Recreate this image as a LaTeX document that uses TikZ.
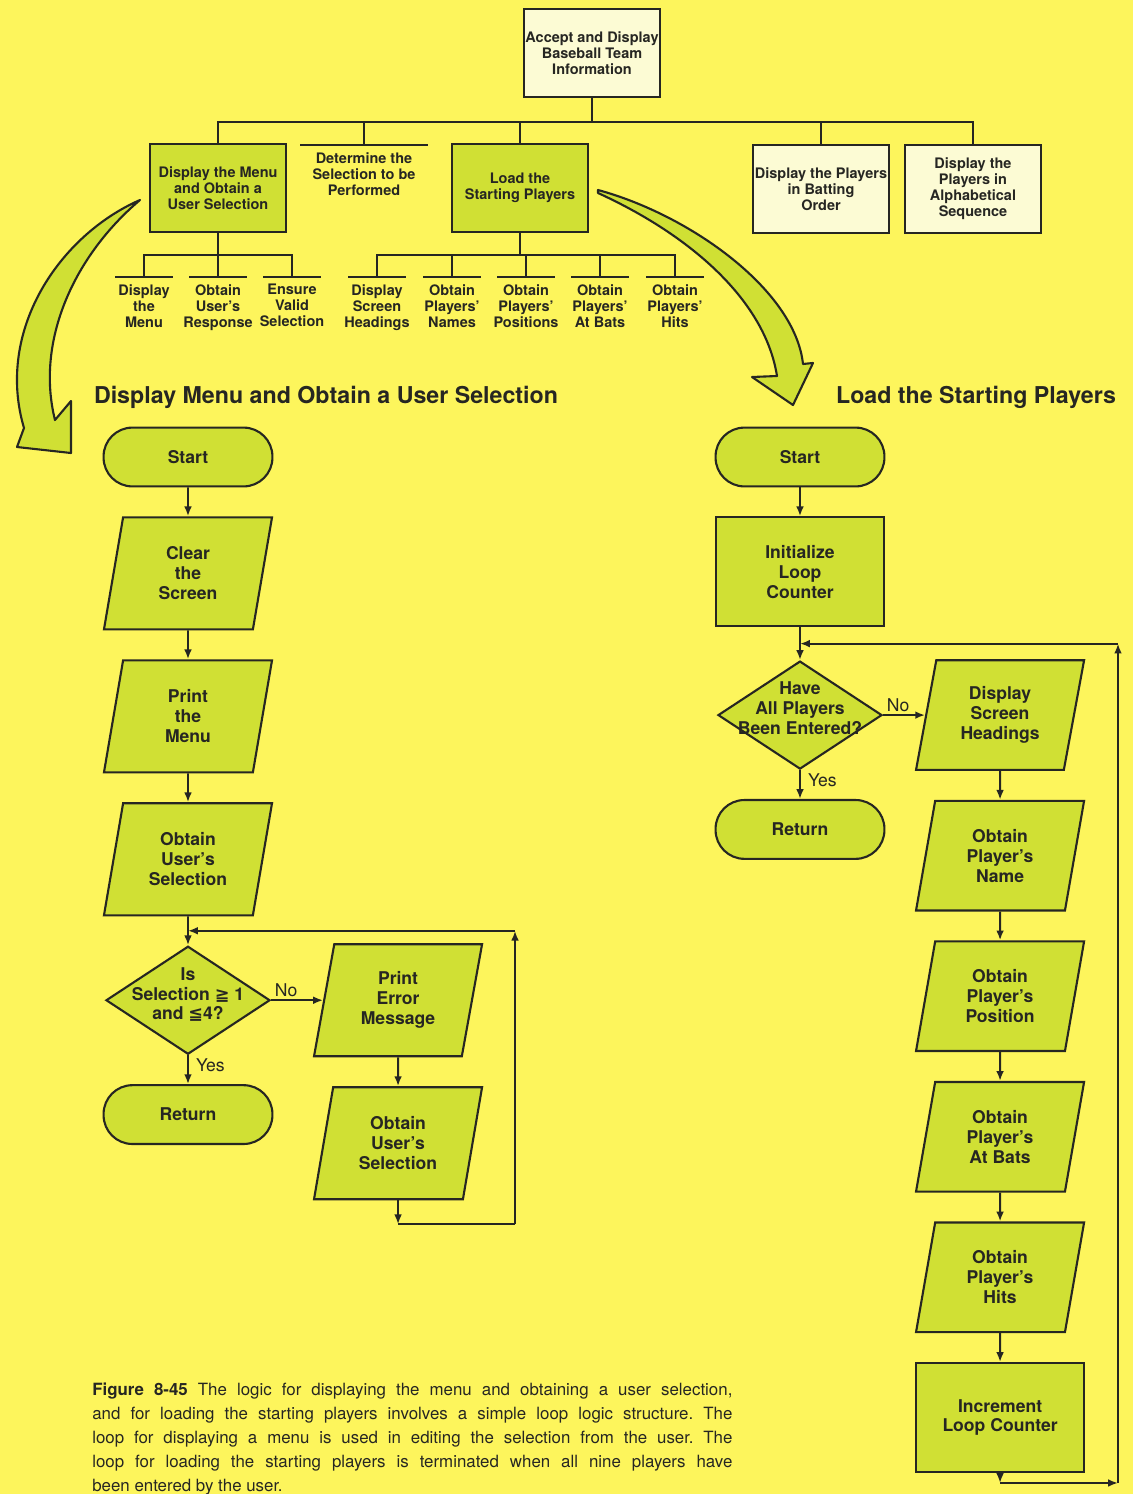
\documentclass[tikz,border=0pt]{standalone}
\usepackage{fontspec}
\setmainfont{TeX Gyre Heros}
\newfontfamily\simbolos{DejaVu Sans}
\usetikzlibrary{arrows.meta,positioning,shapes.geometric,calc}
\definecolor{figYellow}{RGB}{253,245,92}
\definecolor{figGreen}{RGB}{208,224,52}
\definecolor{figPale}{RGB}{252,251,212}
\definecolor{figInk}{RGB}{38,38,34}
\newcommand{\letraFlujo}{\bfseries\fontsize{12.5}{14.2}\selectfont}
\newcommand{\letraArbol}{\bfseries\fontsize{10.3}{11.4}\selectfont}
\newcommand{\rombo}[1]{\smash{\makebox[0pt]{\begin{tabular}{@{}c@{}}#1\end{tabular}}}}
\tikzset{
  modulo/.style={draw=figInk, line width=1.5pt, fill=#1, align=center, font=\letraArbol, text=figInk, minimum width=3.42cm, minimum height=2.22cm, inner sep=1pt},
  hoja/.style={anchor=north, align=center, font=\letraArbol, text=figInk, inner xsep=0pt, inner ysep=5pt},
  rama/.style={draw=figInk, line width=1.4pt},
  terminal/.style={draw=figInk, line width=1.5pt, fill=figGreen, rounded corners=0.72cm, minimum width=4.22cm, minimum height=1.47cm, font=\letraFlujo, text=figInk},
  proceso/.style={draw=figInk, line width=1.5pt, fill=figGreen, align=center, minimum width=4.2cm, minimum height=2.72cm, font=\letraFlujo, text=figInk},
  entrada/.style={trapezium, trapezium left angle=73, trapezium right angle=107, trapezium stretches body, draw=figInk, line width=1.5pt, fill=figGreen, align=center, minimum width=4.2cm, minimum height=2.74cm, font=\letraFlujo, text=figInk},
  decision/.style={diamond, draw=figInk, line width=1.5pt, fill=figGreen, minimum width=4.1cm, minimum height=2.7cm, inner sep=0pt, font=\letraFlujo, text=figInk},
  etiq/.style={font=\fontsize{12.5}{14}\selectfont, text=figInk, inner sep=2pt},
  arrflow/.style={-{Latex[length=7pt,width=5.5pt]}, draw=figInk, line width=1.4pt},
  flechota/.style={draw=figInk, line width=1.5pt, fill=figGreen, line join=round},
  titulo/.style={font=\bfseries\fontsize{16.5}{19}\selectfont, text=figInk, inner sep=0pt},
}

\begin{document}
\begin{tikzpicture}[x=0.025cm, y=-0.025cm, node distance=7.2mm]
\fill[figYellow] (0,0) rectangle (1133,1494);
\useasboundingbox (0,0) rectangle (1133,1494);

% hierarchy chart
\node[modulo=figPale] (raiz) at (592,53) {Accept and Display\\Baseball Team\\Information};
\node[modulo=figGreen] (dmenu) at (218,188) {Display the Menu\\and Obtain a\\User Selection};
\node[hoja] (det) at (364,145) {Determine the\\Selection to be\\Performed};
\node[modulo=figGreen] (load) at (520,188) {Load the\\Starting Players};
\node[modulo=figPale] (orden) at (821,189) {Display the Players\\in Batting\\Order};
\node[modulo=figPale] (alfa) at (973,189) {Display the\\Players in\\Alphabetical\\Sequence};

\node[hoja] (h1) at (144,277) {Display\\the\\Menu};
\node[hoja] (h2) at (218,277) {Obtain\\User's\\Response};
\node[hoja] (h3) at (292,277) {Ensure\\Valid\\Selection};
\node[hoja] (h4) at (377,277) {Display\\Screen\\Headings};
\node[hoja] (h5) at (452,277) {Obtain\\Players'\\Names};
\node[hoja] (h6) at (526,277) {Obtain\\Players'\\Positions};
\node[hoja] (h7) at (600,277) {Obtain\\Players'\\At Bats};
\node[hoja] (h8) at (675,277) {Obtain\\Players'\\Hits};

\coordinate (bus) at ($(raiz.south)+(0,24)$);
\coordinate (bus1) at ($(dmenu.south)+(0,22)$);
\coordinate (bus2) at ($(load.south)+(0,22)$);
\draw[rama] (raiz.south) -- (bus);
\foreach \m in {dmenu,det,load,orden,alfa}
  \draw[rama] (\m.north) |- (bus);
\draw[rama] (dmenu.south) -- (bus1);
\foreach \h in {h1,h2,h3}
  \draw[rama] (\h.north) |- (bus1);
\draw[rama] (load.south) -- (bus2);
\foreach \h in {h4,h5,h6,h7,h8}
  \draw[rama] (\h.north) |- (bus2);
% bars over the lower modules
\foreach \h in {h1,h2,h3,h4,h5,h6,h7,h8}
  \draw[rama] ([xshift=-0.72cm]\h.north) -- ([xshift=0.72cm]\h.north);
\draw[rama] ([xshift=-1.59cm]det.north) -- ([xshift=1.59cm]det.north);

% big curved pointers
\draw[flechota] (140,200) .. controls (60,235) and (-5,330) .. (24,428)
  -- (17,447) -- (71,453) -- (71,401) -- (55,420)
  .. controls (35,340) and (75,255) .. (140,200) -- cycle;
\draw[flechota] (598,190) .. controls (690,215) and (795,290) .. (803,364)
  -- (813,363) -- (793,405) -- (752,377) -- (777,376)
  .. controls (765,300) and (690,235) .. (598,193) -- cycle;

\node[titulo] (t1) at (326,397) {Display Menu and Obtain a User Selection};
\node[titulo] (t2) at (976,397) {Load the Starting Players};

% menu flowchart
\begin{scope}[entrada/.append style={minimum height=2.8cm}]
\node[terminal] (ini1) at (188,457) {Start};
\node[entrada, below=of ini1] (clr) {Clear\\the\\Screen};
\node[entrada, below=of clr] (prt) {Print\\the\\Menu};
\node[entrada, below=of prt] (osel) {Obtain\\User's\\Selection};
\node[decision, below=of osel] (dec1) {\rombo{Is\\Selection {\simbolos ≧} 1\\and {\simbolos ≦}4?}};
\node[terminal, below=of dec1] (ret1) {Return};
\node[entrada, right=1.3cm of dec1] (perr) {Print\\Error\\Message};
\node[entrada, below=of perr] (osel2) {Obtain\\User's\\Selection};
\end{scope}

\draw[arrflow] (ini1) -- (clr);
\draw[arrflow] (clr) -- (prt);
\draw[arrflow] (prt) -- (osel);
\draw[arrflow] (osel) -- (dec1);
\draw[arrflow] (dec1.east) -- node[etiq, above right, pos=0] {No} (perr.west);
\draw[arrflow] (dec1.south) -- node[etiq, below right, pos=0, xshift=3pt] {Yes} (ret1);
\draw[arrflow] (perr) -- (osel2);

\coordinate (j1) at ($(osel.south)!0.5!(dec1.north)$);
\coordinate (lb) at ($(osel2.south)+(0,24)$);
\coordinate (lr) at (515,0 |- lb);
\coordinate (lt) at (lr |- j1);
\draw[arrflow] (osel2.south) -- (lb);
\draw[rama] (lb) -- (lr);
\draw[arrflow] (lr) -- (lt);
\draw[arrflow] (lt) -- (j1);

% player loading flowchart
\node[terminal] (ini2) at (800,457) {Start};
\node[proceso, below=of ini2] (initc) {Initialize\\Loop\\Counter};
\node[decision, below=8.2mm of initc] (dec2) {\rombo{Have\\All Players\\Been Entered?}};
\node[terminal, below=of dec2] (ret2) {Return};
\node[entrada, right=1.05cm of dec2] (dsh) {Display\\Screen\\Headings};
\node[entrada, below=of dsh] (pname) {Obtain\\Player's\\Name};
\node[entrada, below=of pname] (ppos) {Obtain\\Player's\\Position};
\node[entrada, below=of ppos] (pbat) {Obtain\\Player's\\At Bats};
\node[entrada, below=of pbat] (phit) {Obtain\\Player's\\Hits};
\node[proceso, below=of phit] (incr) {Increment\\Loop Counter};

\draw[arrflow] (ini2) -- (initc);
\draw[arrflow] (initc) -- (dec2);
\draw[arrflow] (dec2.east) -- node[etiq, above right, pos=0] {No} (dsh.west);
\draw[arrflow] (dec2.south) -- node[etiq, below right, pos=0, xshift=3pt] {Yes} (ret2);
\draw[arrflow] (dsh) -- (pname);
\draw[arrflow] (pname) -- (ppos);
\draw[arrflow] (ppos) -- (pbat);
\draw[arrflow] (pbat) -- (phit);
\draw[arrflow] (phit) -- (incr);

\coordinate (j2) at ($(initc.south)!0.5!(dec2.north)$);
\coordinate (rb) at ($(incr.south)+(0,10)$);
\coordinate (rr) at (1118,0 |- rb);
\coordinate (rt) at (rr |- j2);
\draw[arrflow] (incr.south) -- (rb);
\draw[arrflow] (rb) -- (rr);
\draw[arrflow] (rr) -- (rt);
\draw[arrflow] (rt) -- (j2);

\node[anchor=north west, text width=16cm, align=justify, inner sep=0pt,
  font=\fontsize{12}{17.07}\selectfont\frenchspacing, text=figInk] (pie) at (92,1383)
  {\textbf{Figure 8-45} The logic for displaying the menu and obtaining a user selection,\linebreak
  and for loading the starting players involves a simple loop logic structure. The\linebreak
  loop for displaying a menu is used in editing the selection from the user. The\linebreak
  loop for loading the starting players is terminated when all nine players have\linebreak
  been entered by the user.};
\end{tikzpicture}
\end{document}
